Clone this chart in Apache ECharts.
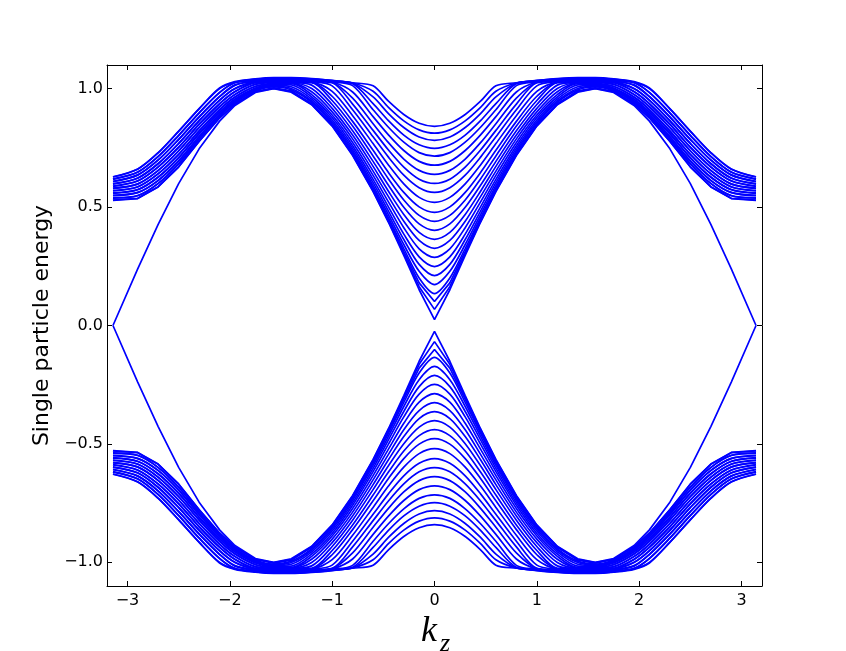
<!DOCTYPE html>
<html><head><meta charset="utf-8">
<script src="https://cdn.jsdelivr.net/npm/echarts@6/dist/echarts.min.js"></script>
<style>html,body{margin:0;padding:0;background:#fff}#c{width:846px;height:651px}</style>
</head><body><div id="c"></div>
<script>
// momentum grid (k_z)
const kz = [-3.1416,-2.9,-2.7,-2.5,-2.3,-2.1,-1.95,-1.75,-1.5708,-1.4,-1.2,-1.0,-0.8,-0.6,-0.45,-0.3,-0.15,0,0.15,0.3,0.45,0.6,0.8,1.0,1.2,1.4,1.5708,1.75,1.95,2.1,2.3,2.5,2.7,2.9,3.1416];

// positive-energy bands
const upperBands = [
[0,.239,.427,.599,.746,.863,.929,.984,1.0,.985,.932,.842,.718,.565,.436,.296,.151,.025,.151,.296,.436,.565,.718,.842,.932,.985,1.0,.984,.929,.863,.746,.599,.427,.239,0],
[.528,.536,.585,.669,.777,.876,.935,.987,1.001,.988,.934,.844,.721,.569,.440,.303,.164,.068,.164,.303,.440,.569,.721,.844,.934,.988,1.001,.987,.935,.876,.777,.669,.585,.536,.528],
[.530,.537,.586,.670,.778,.877,.936,.988,1.004,.991,.937,.848,.724,.574,.447,.312,.180,.101,.180,.312,.447,.574,.724,.848,.937,.991,1.004,.988,.936,.877,.778,.670,.586,.537,.530],
[.538,.548,.599,.682,.787,.883,.941,.990,1.007,.995,.942,.852,.730,.581,.455,.325,.201,.135,.201,.325,.455,.581,.730,.852,.942,.995,1.007,.990,.941,.883,.787,.682,.599,.548,.538],
[.540,.549,.600,.683,.788,.884,.942,.992,1.010,1.001,.948,.859,.738,.591,.468,.342,.229,.173,.229,.342,.468,.591,.738,.859,.948,1.001,1.010,.992,.942,.884,.788,.683,.600,.549,.540],
[.548,.561,.612,.694,.797,.891,.947,.995,1.014,1.008,.956,.868,.748,.603,.483,.363,.258,.211,.258,.363,.483,.603,.748,.868,.956,1.008,1.014,.995,.947,.891,.797,.694,.612,.561,.548],
[.550,.562,.613,.695,.798,.892,.948,.997,1.018,1.016,.965,.878,.759,.617,.501,.386,.290,.249,.290,.386,.501,.617,.759,.878,.965,1.016,1.018,.997,.948,.892,.798,.695,.613,.562,.550],
[.558,.573,.626,.708,.809,.900,.955,1.001,1.020,1.022,.975,.889,.773,.634,.522,.413,.324,.288,.324,.413,.522,.634,.773,.889,.975,1.022,1.020,1.001,.955,.900,.809,.708,.626,.573,.558],
[.560,.574,.627,.709,.810,.901,.956,1.003,1.020,1.022,.987,.902,.788,.652,.544,.440,.359,.326,.359,.440,.544,.652,.788,.902,.987,1.022,1.020,1.003,.956,.901,.810,.709,.627,.574,.560],
[.568,.585,.640,.722,.821,.911,.964,1.009,1.022,1.024,1.001,.917,.804,.672,.567,.469,.393,.364,.393,.469,.567,.672,.804,.917,1.001,1.024,1.022,1.009,.964,.911,.821,.722,.640,.585,.568],
[.570,.586,.641,.723,.822,.912,.965,1.010,1.024,1.026,1.015,.933,.822,.693,.592,.499,.429,.402,.429,.499,.592,.693,.822,.933,1.015,1.026,1.024,1.010,.965,.912,.822,.723,.641,.586,.570],
[.578,.597,.654,.737,.835,.923,.975,1.018,1.026,1.027,1.025,.950,.842,.716,.619,.530,.465,.440,.465,.530,.619,.716,.842,.950,1.025,1.027,1.026,1.018,.975,.923,.835,.737,.654,.597,.578],
[.580,.598,.655,.738,.836,.924,.976,1.020,1.028,1.029,1.027,.968,.862,.740,.646,.562,.501,.478,.501,.562,.646,.740,.862,.968,1.027,1.029,1.028,1.020,.976,.924,.836,.738,.655,.598,.580],
[.587,.610,.669,.752,.849,.936,.987,1.025,1.030,1.031,1.028,.989,.886,.768,.678,.598,.541,.520,.541,.598,.678,.768,.886,.989,1.028,1.031,1.030,1.025,.987,.936,.849,.752,.669,.610,.587],
[.589,.611,.670,.753,.850,.937,.988,1.027,1.032,1.033,1.030,1.012,.911,.797,.711,.635,.582,.562,.582,.635,.711,.797,.911,1.012,1.030,1.033,1.032,1.027,.988,.937,.850,.753,.670,.611,.589],
[.597,.622,.683,.768,.864,.951,1.000,1.029,1.034,1.035,1.032,1.025,.935,.824,.741,.669,.618,.600,.618,.669,.741,.824,.935,1.025,1.032,1.035,1.034,1.029,1.000,.951,.864,.768,.683,.622,.597],
[.599,.623,.684,.769,.865,.952,1.001,1.030,1.035,1.036,1.033,1.026,.960,.852,.772,.703,.655,.638,.655,.703,.772,.852,.960,1.026,1.033,1.036,1.035,1.030,1.001,.952,.865,.769,.684,.623,.599],
[.607,.635,.698,.785,.880,.966,1.014,1.032,1.037,1.038,1.035,1.028,.986,.882,.805,.739,.693,.677,.693,.739,.805,.882,.986,1.028,1.035,1.038,1.037,1.032,1.014,.966,.880,.785,.698,.635,.607],
[.609,.636,.699,.786,.881,.967,1.016,1.034,1.039,1.040,1.036,1.029,1.013,.911,.837,.774,.730,.715,.730,.774,.837,.911,1.013,1.029,1.036,1.040,1.039,1.034,1.016,.967,.881,.786,.699,.636,.609],
[.617,.647,.713,.802,.897,.983,1.025,1.036,1.041,1.042,1.038,1.031,1.021,.937,.865,.804,.763,.748,.763,.804,.865,.937,1.021,1.031,1.038,1.042,1.041,1.036,1.025,.983,.897,.802,.713,.647,.617],
[.619,.648,.714,.803,.898,.984,1.026,1.038,1.043,1.043,1.040,1.032,1.023,.965,.895,.836,.796,.782,.796,.836,.895,.965,1.023,1.032,1.040,1.043,1.043,1.038,1.026,.984,.898,.803,.714,.648,.619],
[.627,.660,.729,.820,.915,1.000,1.028,1.040,1.045,1.045,1.041,1.034,1.024,.989,.921,.864,.826,.812,.826,.864,.921,.989,1.024,1.034,1.041,1.045,1.045,1.040,1.028,1.000,.915,.820,.729,.660,.627],
[.628,.661,.730,.821,.916,1.003,1.030,1.042,1.047,1.047,1.043,1.035,1.025,1.012,.947,.891,.854,.841,.854,.891,.947,1.012,1.025,1.035,1.043,1.047,1.047,1.042,1.030,1.003,.916,.821,.730,.661,.628]
];

// negative-energy bands
const lowerBands = [
[0,-.239,-.427,-.599,-.746,-.863,-.929,-.984,-1.0,-.985,-.932,-.842,-.718,-.565,-.436,-.296,-.151,-.025,-.151,-.296,-.436,-.565,-.718,-.842,-.932,-.985,-1.0,-.984,-.929,-.863,-.746,-.599,-.427,-.239,0],
[-.528,-.536,-.585,-.669,-.777,-.876,-.935,-.987,-1.001,-.988,-.934,-.844,-.721,-.569,-.440,-.303,-.164,-.068,-.164,-.303,-.440,-.569,-.721,-.844,-.934,-.988,-1.001,-.987,-.935,-.876,-.777,-.669,-.585,-.536,-.528],
[-.530,-.537,-.586,-.670,-.778,-.877,-.936,-.988,-1.004,-.991,-.937,-.848,-.724,-.574,-.447,-.312,-.180,-.101,-.180,-.312,-.447,-.574,-.724,-.848,-.937,-.991,-1.004,-.988,-.936,-.877,-.778,-.670,-.586,-.537,-.530],
[-.538,-.548,-.599,-.682,-.787,-.883,-.941,-.990,-1.007,-.995,-.942,-.852,-.730,-.581,-.455,-.325,-.201,-.135,-.201,-.325,-.455,-.581,-.730,-.852,-.942,-.995,-1.007,-.990,-.941,-.883,-.787,-.682,-.599,-.548,-.538],
[-.540,-.549,-.600,-.683,-.788,-.884,-.942,-.992,-1.010,-1.001,-.948,-.859,-.738,-.591,-.468,-.342,-.229,-.173,-.229,-.342,-.468,-.591,-.738,-.859,-.948,-1.001,-1.010,-.992,-.942,-.884,-.788,-.683,-.600,-.549,-.540],
[-.548,-.561,-.612,-.694,-.797,-.891,-.947,-.995,-1.014,-1.008,-.956,-.868,-.748,-.603,-.483,-.363,-.258,-.211,-.258,-.363,-.483,-.603,-.748,-.868,-.956,-1.008,-1.014,-.995,-.947,-.891,-.797,-.694,-.612,-.561,-.548],
[-.550,-.562,-.613,-.695,-.798,-.892,-.948,-.997,-1.018,-1.016,-.965,-.878,-.759,-.617,-.501,-.386,-.290,-.249,-.290,-.386,-.501,-.617,-.759,-.878,-.965,-1.016,-1.018,-.997,-.948,-.892,-.798,-.695,-.613,-.562,-.550],
[-.558,-.573,-.626,-.708,-.809,-.900,-.955,-1.001,-1.020,-1.022,-.975,-.889,-.773,-.634,-.522,-.413,-.324,-.288,-.324,-.413,-.522,-.634,-.773,-.889,-.975,-1.022,-1.020,-1.001,-.955,-.900,-.809,-.708,-.626,-.573,-.558],
[-.560,-.574,-.627,-.709,-.810,-.901,-.956,-1.003,-1.020,-1.022,-.987,-.902,-.788,-.652,-.544,-.440,-.359,-.326,-.359,-.440,-.544,-.652,-.788,-.902,-.987,-1.022,-1.020,-1.003,-.956,-.901,-.810,-.709,-.627,-.574,-.560],
[-.568,-.585,-.640,-.722,-.821,-.911,-.964,-1.009,-1.022,-1.024,-1.001,-.917,-.804,-.672,-.567,-.469,-.393,-.364,-.393,-.469,-.567,-.672,-.804,-.917,-1.001,-1.024,-1.022,-1.009,-.964,-.911,-.821,-.722,-.640,-.585,-.568],
[-.570,-.586,-.641,-.723,-.822,-.912,-.965,-1.010,-1.024,-1.026,-1.015,-.933,-.822,-.693,-.592,-.499,-.429,-.402,-.429,-.499,-.592,-.693,-.822,-.933,-1.015,-1.026,-1.024,-1.010,-.965,-.912,-.822,-.723,-.641,-.586,-.570],
[-.578,-.597,-.654,-.737,-.835,-.923,-.975,-1.018,-1.026,-1.027,-1.025,-.950,-.842,-.716,-.619,-.530,-.465,-.440,-.465,-.530,-.619,-.716,-.842,-.950,-1.025,-1.027,-1.026,-1.018,-.975,-.923,-.835,-.737,-.654,-.597,-.578],
[-.580,-.598,-.655,-.738,-.836,-.924,-.976,-1.020,-1.028,-1.029,-1.027,-.968,-.862,-.740,-.646,-.562,-.501,-.478,-.501,-.562,-.646,-.740,-.862,-.968,-1.027,-1.029,-1.028,-1.020,-.976,-.924,-.836,-.738,-.655,-.598,-.580],
[-.587,-.610,-.669,-.752,-.849,-.936,-.987,-1.025,-1.030,-1.031,-1.028,-.989,-.886,-.768,-.678,-.598,-.541,-.520,-.541,-.598,-.678,-.768,-.886,-.989,-1.028,-1.031,-1.030,-1.025,-.987,-.936,-.849,-.752,-.669,-.610,-.587],
[-.589,-.611,-.670,-.753,-.850,-.937,-.988,-1.027,-1.032,-1.033,-1.030,-1.012,-.911,-.797,-.711,-.635,-.582,-.562,-.582,-.635,-.711,-.797,-.911,-1.012,-1.030,-1.033,-1.032,-1.027,-.988,-.937,-.850,-.753,-.670,-.611,-.589],
[-.597,-.622,-.683,-.768,-.864,-.951,-1.000,-1.029,-1.034,-1.035,-1.032,-1.025,-.935,-.824,-.741,-.669,-.618,-.600,-.618,-.669,-.741,-.824,-.935,-1.025,-1.032,-1.035,-1.034,-1.029,-1.000,-.951,-.864,-.768,-.683,-.622,-.597],
[-.599,-.623,-.684,-.769,-.865,-.952,-1.001,-1.030,-1.035,-1.036,-1.033,-1.026,-.960,-.852,-.772,-.703,-.655,-.638,-.655,-.703,-.772,-.852,-.960,-1.026,-1.033,-1.036,-1.035,-1.030,-1.001,-.952,-.865,-.769,-.684,-.623,-.599],
[-.607,-.635,-.698,-.785,-.880,-.966,-1.014,-1.032,-1.037,-1.038,-1.035,-1.028,-.986,-.882,-.805,-.739,-.693,-.677,-.693,-.739,-.805,-.882,-.986,-1.028,-1.035,-1.038,-1.037,-1.032,-1.014,-.966,-.880,-.785,-.698,-.635,-.607],
[-.609,-.636,-.699,-.786,-.881,-.967,-1.016,-1.034,-1.039,-1.040,-1.036,-1.029,-1.013,-.911,-.837,-.774,-.730,-.715,-.730,-.774,-.837,-.911,-1.013,-1.029,-1.036,-1.040,-1.039,-1.034,-1.016,-.967,-.881,-.786,-.699,-.636,-.609],
[-.617,-.647,-.713,-.802,-.897,-.983,-1.025,-1.036,-1.041,-1.042,-1.038,-1.031,-1.021,-.937,-.865,-.804,-.763,-.748,-.763,-.804,-.865,-.937,-1.021,-1.031,-1.038,-1.042,-1.041,-1.036,-1.025,-.983,-.897,-.802,-.713,-.647,-.617],
[-.619,-.648,-.714,-.803,-.898,-.984,-1.026,-1.038,-1.043,-1.043,-1.040,-1.032,-1.023,-.965,-.895,-.836,-.796,-.782,-.796,-.836,-.895,-.965,-1.023,-1.032,-1.040,-1.043,-1.043,-1.038,-1.026,-.984,-.898,-.803,-.714,-.648,-.619],
[-.627,-.660,-.729,-.820,-.915,-1.000,-1.028,-1.040,-1.045,-1.045,-1.041,-1.034,-1.024,-.989,-.921,-.864,-.826,-.812,-.826,-.864,-.921,-.989,-1.024,-1.034,-1.041,-1.045,-1.045,-1.040,-1.028,-1.000,-.915,-.820,-.729,-.660,-.627],
[-.628,-.661,-.730,-.821,-.916,-1.003,-1.030,-1.042,-1.047,-1.047,-1.043,-1.035,-1.025,-1.012,-.947,-.891,-.854,-.841,-.854,-.891,-.947,-1.012,-1.025,-1.035,-1.043,-1.047,-1.047,-1.042,-1.030,-1.003,-.916,-.821,-.730,-.661,-.628]
];

const xTicks = [-3,-2,-1,0,1,2,3];
const yTicks = [-1,-0.5,0,0.5,1];
const yLabel = 'Single particle energy';

const minus = v => (v < 0 ? '\u2212' : '');
const fmtX = v => minus(v) + Math.abs(v);
const fmtY = v => minus(v) + Math.abs(v).toFixed(1);

const chart = echarts.init(document.getElementById('c'), null, {renderer: 'canvas'});
const lineStyle = {color: '#0000ff', width: 1.7};
const series = [];
// the three innermost bands of each half have sharp V-shaped tips at k_z = 0
const addBands = (bands) => bands.forEach((band, i) => {
  series.push({
    type: 'line', data: kz.map((k, j) => [k, band[j]]),
    showSymbol: false, symbol: 'none', smooth: i < 3 ? false : 0.3, silent: true,
    lineStyle: lineStyle, animation: false, z: 2
  });
});
addBands(upperBands);
addBands(lowerBands);

const axisLine = {show: true, onZero: false, lineStyle: {color: '#000', width: 1}};
const tickStyle = {color: '#000', width: 1};
const font = {fontFamily: 'DejaVu Sans', fontSize: 16, color: '#000'};

chart.setOption({
  animation: false,
  backgroundColor: '#fff',
  grid: {left: 107, top: 65, right: 84, bottom: 65, containLabel: false},
  xAxis: [
    {type: 'value', min: -3.2, max: 3.2, position: 'bottom', axisLine: axisLine,
     axisTick: {show: true, inside: true, length: 5, customValues: xTicks, lineStyle: tickStyle},
     axisLabel: Object.assign({customValues: xTicks, formatter: fmtX, margin: 7}, font),
     splitLine: {show: false}},
    {type: 'value', min: -3.2, max: 3.2, position: 'top', axisLine: axisLine,
     axisTick: {show: true, inside: true, length: 5, customValues: xTicks, lineStyle: tickStyle},
     axisLabel: {show: false}, splitLine: {show: false}}
  ],
  yAxis: [
    {type: 'value', min: -1.1, max: 1.1, position: 'left', axisLine: axisLine,
     axisTick: {show: true, inside: true, length: 5, customValues: yTicks, lineStyle: tickStyle},
     axisLabel: Object.assign({customValues: yTicks, formatter: fmtY, margin: 4}, font),
     splitLine: {show: false},
     name: yLabel, nameLocation: 'middle', nameGap: 44,
     nameTextStyle: {fontFamily: 'DejaVu Sans', fontSize: 22, color: '#000'}},
    {type: 'value', min: -1.1, max: 1.1, position: 'right', axisLine: axisLine,
     axisTick: {show: true, inside: true, length: 5, customValues: yTicks, lineStyle: tickStyle},
     axisLabel: {show: false}, splitLine: {show: false}}
  ],
  graphic: [
    {type: 'text', x: 429, y: 632, style: {text: 'k', font: 'italic 36px "Liberation Serif"', fill: '#000', align: 'center', verticalAlign: 'middle'}},
    {type: 'text', x: 445, y: 644, style: {text: 'z', font: 'italic 26px "Liberation Serif"', fill: '#000', align: 'center', verticalAlign: 'middle'}}
  ],
  series: series
});
</script>
</body></html>
